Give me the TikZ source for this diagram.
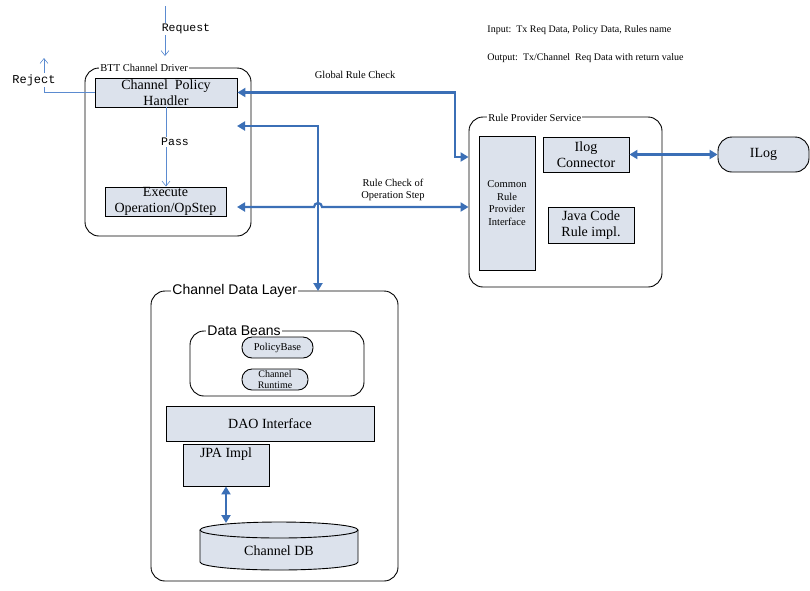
\documentclass[tikz,border=0pt]{standalone}
\usepackage{fontspec}
\setmainfont{Liberation Serif}
\setsansfont{Liberation Sans}
\setmonofont{Liberation Mono}
\usetikzlibrary{arrows.meta, positioning, calc}
\definecolor{kFill}{HTML}{DCE2EC}
\definecolor{kFlow}{HTML}{3B6FB6}
\definecolor{kCtrl}{HTML}{5B8BD0}
\newcommand{\bigtxt}{\fontsize{14}{16}\selectfont}
\newcommand{\smalltxt}{\fontsize{10.5}{12.5}\selectfont}
\newcommand{\monotxt}{\ttfamily\fontsize{11.5}{13}\selectfont}

\begin{document}
\begin{tikzpicture}[x=1pt, y=-1pt, font=\bigtxt, line width=0.9pt,
    blk/.style={draw, fill=kFill, inner sep=0pt, align=center},
    grp/.style={draw, rounded corners=14pt, inner sep=0pt},
    grptag/.style={fill=white, inner sep=1pt, anchor=west},
    pill/.style={draw, fill=kFill, inner sep=0pt, align=center},
    flow/.style={draw=kFlow, line width=2.2pt, {Triangle[length=8pt,width=9pt]}-{Triangle[length=8pt,width=9pt]}},
    ctrl/.style={draw=kCtrl, line width=0.6pt, -{Straight Barb[length=5pt,width=8pt]}},
    mono/.style={fill=white, inner sep=1pt, font=\monotxt}]
  \useasboundingbox (0,0) rectangle (810,590);
  % groups
  \node[grp, minimum width=166pt, minimum height=168pt] (drv) at (168,152) {};
  \node[grp, minimum width=193pt, minimum height=170pt] (rps) at (565.5,202) {};
  \node[grp, minimum width=247pt, minimum height=290pt] (cdl) at (274.5,436) {};
  \node[grp, minimum width=174pt, minimum height=65pt] (beans) at (277,363.5) {};
  \node[grptag, font=\smalltxt] (drvtag) at (99,68) {BTT Channel Driver};
  \node[grptag, font=\smalltxt] (rpstag) at (487,118) {Rule Provider Service};
  \node[grptag, font=\sffamily\fontsize{14}{16}\selectfont] (cdltag) at (171,291) {Channel Data Layer};
  \node[grptag, font=\sffamily\fontsize{14}{16}\selectfont] (beanstag) at (206,331) {Data Beans};
  % driver
  \node[blk, minimum width=142pt, minimum height=29pt] (cph) at (166,92.5) {Channel\ \ Policy\\Handler};
  \node[blk, minimum width=121pt, minimum height=29pt] (exe) at (165.5,201.5) {Execute\\Operation/OpStep};
  % rule provider
  \node[blk, minimum width=56pt, minimum height=134pt, font=\smalltxt] (crpi) at (507,203) {Common\\Rule\\Provider\\Interface};
  \node[blk, minimum width=86pt, minimum height=35pt] (ilc) at (586,154.5) {Ilog\\Connector};
  \node[blk, minimum width=86pt, minimum height=36pt] (jcr) at (591,225) {Java Code\\Rule impl.};
  \node[pill, rounded corners=14pt, minimum width=91pt, minimum height=35pt] (ilog) at (763.5,154.5) {ILog};
  % data layer
  \node[pill, rounded corners=10pt, minimum width=71pt, minimum height=21pt, font=\smalltxt] (pb) at (277.5,347.5) {PolicyBase};
  \node[pill, rounded corners=10pt, minimum width=66pt, minimum height=21pt, font=\fontsize{10}{11}\selectfont] (crt) at (275,379.5) {Channel\\Runtime};
  \node[blk, minimum width=208pt, minimum height=35pt] (dao) at (270,423.5) {DAO Interface};
  \node[draw, fill=kFill, inner sep=1pt, minimum width=86pt, text height=12pt, text depth=28pt] (jpa) at (226,465) {JPA Impl};
  \draw[fill=kFill] (200,530) -- (200,562) arc[start angle=180, end angle=0, x radius=79, y radius=8] -- (358,530);
  \draw[fill=kFill] (279,530) ellipse[x radius=79, y radius=8];
  \node (db) at (279,551) {Channel DB};
  \coordinate (dbtop) at (226,523);
  % notes
  \node[anchor=base west, inner sep=0pt, font=\fontsize{10}{12}\selectfont] (inp) at (487,32) {Input:\ \ Tx Req Data, Policy Data, Rules name};
  \node[anchor=base west, inner sep=0pt, font=\fontsize{10}{12}\selectfont] (outp) at (487,60) {Output:\ \ Tx/Channel\ \ Req Data with return value};
  % control lines
  \coordinate (reqsrc) at (165,6);
  \coordinate (reqdst) at (165,56);
  \coordinate (rejtip) at (44,58);
  \draw[ctrl] (reqsrc) -- (reqdst);
  \draw[ctrl] (cph.west) -| (rejtip);
  \draw[ctrl] (cph.south) -- (cph.south |- exe.north);
  \node[mono] (req) at (186,29) {Request};
  \node[mono, font=\ttfamily\fontsize{12}{13}\selectfont] (rej) at (34,80) {Reject};
  \node[mono] (pass) at (175,142) {Pass};
  % flows
  \coordinate (gturn) at (455,157);
  \coordinate (drvin) at (237,126);
  \coordinate (dtop) at (318,291);
  \coordinate (opin) at (237,207);
  \draw[flow] (cph.east) -| (gturn) -- (gturn -| rps.west);
  \draw[flow] (drvin) -| (dtop);
  \draw[flow] (opin) -- (314,207) arc[start angle=180, end angle=360, radius=4] -- (rps.west |- opin);
  \draw[flow] (ilc.east) -- (ilog.west);
  \draw[flow] (jpa.south) -- (dbtop);
  \node[font=\smalltxt] (glbl) at (355,75) {Global Rule Check};
  \node[font=\smalltxt, align=center, inner sep=0pt] (oplbl) at (393,190) {Rule Check of\\Operation Step};
\end{tikzpicture}
\end{document}
